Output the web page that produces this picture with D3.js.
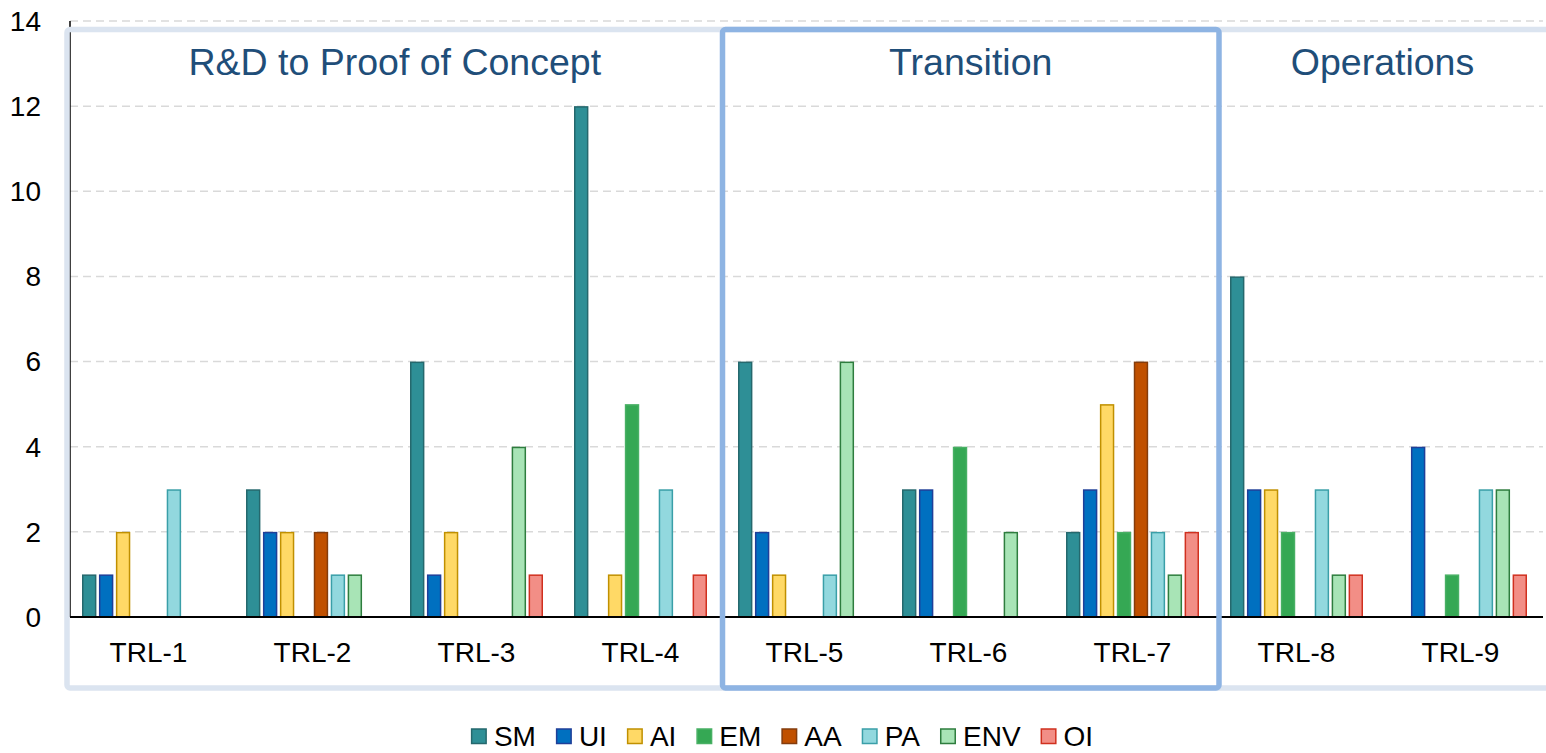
<!DOCTYPE html>
<html>
<head>
<meta charset="utf-8">
<script src="https://cdn.jsdelivr.net/npm/d3@7"></script>
<style>
  html, body { margin: 0; padding: 0; background: #fff; }
  svg { display: block; font-family: "Liberation Sans", Arial, sans-serif; }
</style>
</head>
<body>
<svg width="1546" height="753"></svg>
<script>
// chart data
const categories = ["TRL-1", "TRL-2", "TRL-3", "TRL-4", "TRL-5", "TRL-6", "TRL-7", "TRL-8", "TRL-9"];
const seriesNames = ["SM", "UI", "AI", "EM", "AA", "PA", "ENV", "OI"];
const SM  = [1, 3, 6, 12, 6, 3, 2, 8, 0];
const UI  = [1, 2, 1, 0, 2, 3, 3, 3, 4];
const AI  = [2, 2, 2, 1, 1, 0, 5, 3, 0];
const EM  = [0, 0, 0, 5, 0, 4, 2, 2, 1];
const AA  = [0, 2, 0, 0, 0, 0, 6, 0, 0];
const PA  = [3, 1, 0, 3, 1, 0, 2, 3, 3];
const ENV = [0, 1, 4, 0, 6, 2, 1, 1, 3];
const OI  = [0, 0, 1, 1, 0, 0, 2, 1, 1];
const yTicks = [0, 2, 4, 6, 8, 10, 12, 14];
const phases = [
  { name: "R&D to Proof of Concept", from: "TRL-1", to: "TRL-4" },
  { name: "Transition", from: "TRL-5", to: "TRL-7" },
  { name: "Operations", from: "TRL-8", to: "TRL-9" }
];

const seriesValues = [SM, UI, AI, EM, AA, PA, ENV, OI];
const fills   = ["#2e8f96", "#0070c0", "#ffd966", "#35a854", "#c05000", "#92d8de", "#a8e4b6", "#f28e86"];
const strokes = ["#25686d", "#1f3f99", "#c09000", "#48b064", "#843c0c", "#3a9fa8", "#2e7d3e", "#d0301f"];

const svg = d3.select("svg");

// scales
const x = d3.scaleBand()
  .domain(categories)
  .range([66.5, 1542.5])
  .padding(0);
const xInner = d3.scaleBand()
  .domain(seriesNames)
  .range([15.5, 148.5])
  .paddingInner(0.15);
const y = d3.scaleLinear()
  .domain([0, 14])
  .range([617, 21]);

const plotLeft = 70;
const plotRight = 1543;

// gridlines
svg.append("g")
  .selectAll("line")
  .data(yTicks.filter(d => d > 0))
  .enter()
  .append("line")
  .attr("x1", plotLeft)
  .attr("x2", plotRight)
  .attr("y1", d => y(d))
  .attr("y2", d => y(d))
  .attr("stroke", "#d9d9d9")
  .attr("stroke-width", 1.5)
  .attr("stroke-dasharray", "8,5");

// y axis labels
svg.append("g")
  .selectAll("text")
  .data(yTicks)
  .enter()
  .append("text")
  .attr("x", 41)
  .attr("y", d => y(d))
  .attr("dy", "0.35em")
  .attr("text-anchor", "end")
  .attr("font-size", 28)
  .attr("fill", "#000")
  .text(d => d);

// y axis line (mostly hidden by the frame)
svg.append("line")
  .attr("x1", plotLeft).attr("x2", plotLeft)
  .attr("y1", y(14)).attr("y2", y(0))
  .attr("stroke", "#000")
  .attr("stroke-width", 1.5);

// bars
const groups = svg.append("g")
  .selectAll("g")
  .data(seriesNames)
  .enter()
  .append("g");
groups.selectAll("rect")
  .data((s, si) => categories.map((c, ci) => ({ s: s, si: si, c: c, v: seriesValues[si][ci] })).filter(d => d.v > 0))
  .enter()
  .append("rect")
  .attr("x", d => x(d.c) + xInner(d.s) + 0.75)
  .attr("y", d => y(d.v) + 0.75)
  .attr("width", xInner.bandwidth() - 1.5)
  .attr("height", d => y(0) - y(d.v) - 0.75)
  .attr("fill", d => fills[d.si])
  .attr("stroke", d => strokes[d.si])
  .attr("stroke-width", 1.5);

// zero line
svg.append("line")
  .attr("x1", plotLeft).attr("x2", plotRight)
  .attr("y1", y(0)).attr("y2", y(0))
  .attr("stroke", "#000")
  .attr("stroke-width", 2);

// category labels
svg.append("g")
  .selectAll("text")
  .data(categories)
  .enter()
  .append("text")
  .attr("x", d => x(d) + x.bandwidth() / 2)
  .attr("y", 662)
  .attr("text-anchor", "middle")
  .attr("font-size", 28)
  .attr("fill", "#000")
  .text(d => d);

// phase frames
const frameTop = 29.5;
const frameBottom = 688;
const split1 = 722.5;
const split2 = 1219;
svg.append("rect")
  .attr("x", 67)
  .attr("y", frameTop)
  .attr("width", 1520)
  .attr("height", frameBottom - frameTop)
  .attr("rx", 3)
  .attr("fill", "none")
  .attr("stroke", "#dbe4f0")
  .attr("stroke-width", 5.5);
svg.append("rect")
  .attr("x", split1)
  .attr("y", frameTop)
  .attr("width", split2 - split1)
  .attr("height", frameBottom - frameTop)
  .attr("rx", 3)
  .attr("fill", "none")
  .attr("stroke", "#8eb4e3")
  .attr("stroke-width", 5.5);

// phase titles
const phaseEdges = [[67, split1], [split1, split2], [split2, 1546]];
svg.append("g")
  .selectAll("text")
  .data(phases)
  .enter()
  .append("text")
  .attr("x", (d, i) => (phaseEdges[i][0] + phaseEdges[i][1]) / 2)
  .attr("y", 75)
  .attr("text-anchor", "middle")
  .attr("font-size", 37.5)
  .attr("fill", "#1f4e79")
  .text(d => d.name);

// legend
const size = 16;
const gap = 7;
const spacing = 20;
const legend = svg.append("g");
let offset = 0;
seriesNames.forEach((s, i) => {
  const item = legend.append("g").attr("transform", "translate(" + offset + ",0)");
  item.append("rect")
    .attr("x", 0.75)
    .attr("y", 729)
    .attr("width", size - 1.5)
    .attr("height", size - 1.5)
    .attr("fill", fills[i])
    .attr("stroke", strokes[i])
    .attr("stroke-width", 1.5);
  const t = item.append("text")
    .attr("x", size + gap)
    .attr("y", 746)
    .attr("font-size", 28)
    .attr("fill", "#000")
    .text(s);
  offset += size + gap + t.node().getComputedTextLength() + spacing;
});
const legendWidth = offset - spacing;
legend.attr("transform", "translate(" + (782 - legendWidth / 2) + ",0)");
</script>
</body>
</html>
